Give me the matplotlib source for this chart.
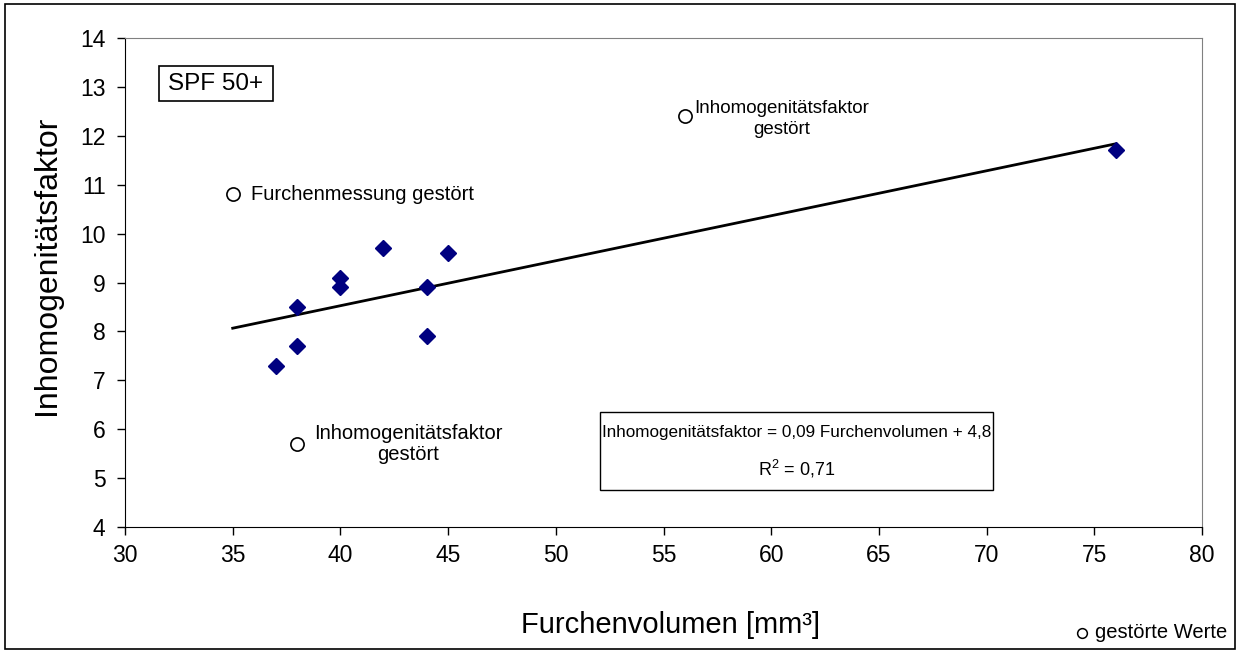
import numpy as np
import matplotlib
matplotlib.use("Agg")
import matplotlib.pyplot as plt
from matplotlib.patches import Rectangle
from matplotlib.lines import Line2D

plt.rcParams['font.family'] = ['Liberation Sans', 'DejaVu Sans']

# Messwerte SPF 50+
furchenvolumen = [37, 38, 38, 40, 40, 42, 44, 44, 45, 76]
inhomogenitaet = [7.3, 7.7, 8.5, 8.9, 9.1, 9.7, 8.9, 7.9, 9.6, 11.7]

# gestörte Werte (nicht in der Regression)
gestoert_x = [35, 56, 38]
gestoert_y = [10.8, 12.4, 5.7]
gestoert_text = ["Furchenmessung gestört",
                 "Inhomogenitätsfaktor\ngestört",
                 "Inhomogenitätsfaktor\ngestört"]

x_ticks = list(range(30, 81, 5))
y_ticks = list(range(4, 15))

W, H = 1240, 653

# lineare Regression
slope, intercept = np.polyfit(furchenvolumen, inhomogenitaet, 1)
trend_x = np.array([35, 76])
trend_y = slope * trend_x + intercept


def fx(px):
    return px / W


def fy(py):
    return 1 - py / H


fig = plt.figure(figsize=(W / 100, H / 100), dpi=100)
ax = fig.add_axes([fx(125), fy(527), (1202 - 125) / W, (527 - 38) / H])

ax.plot(trend_x, trend_y, color='black', linewidth=2, zorder=2)
ax.plot(furchenvolumen, inhomogenitaet, linestyle='none', marker='D',
        markersize=8.5, color='#000080', zorder=3)
ax.plot(gestoert_x, gestoert_y, linestyle='none', marker='o', markersize=9.5,
        markerfacecolor='white', markeredgecolor='black', markeredgewidth=1.2, zorder=3)

ax.set_xlim(30, 80)
ax.set_ylim(4, 14)
ax.set_xticks(x_ticks)
ax.set_yticks(y_ticks)
ax.tick_params(direction='out', length=6, width=1, labelsize=16.5)
ax.tick_params(axis='y', pad=8)
ax.tick_params(axis='x', pad=6)

for side in ['top', 'right']:
    ax.spines[side].set_color('#808080')
for side in ['left', 'bottom']:
    ax.spines[side].set_color('black')

ax.set_xlabel("Furchenvolumen [mm³]", fontsize=21, labelpad=32)
ax.xaxis.label.set_x(0.507)
ax.set_ylabel("Inhomogenitätsfaktor", fontsize=23, labelpad=13)
ax.yaxis.label.set_y(0.535)

# Beschriftungen der gestörten Werte
ax.annotate(gestoert_text[0], (gestoert_x[0], gestoert_y[0]), xytext=(18, 0),
            textcoords='offset pixels', ha='left', va='center', fontsize=14.5)
ax.annotate(gestoert_text[1], (gestoert_x[1], gestoert_y[1]), xytext=(97, -3),
            textcoords='offset pixels', ha='center', va='center', fontsize=13.5,
            linespacing=1.3)
ax.annotate(gestoert_text[2], (gestoert_x[2], gestoert_y[2]), xytext=(111, 0),
            textcoords='offset pixels', ha='center', va='center', fontsize=14.5,
            linespacing=1.15)

# Kasten SPF 50+
fig.add_artist(Rectangle((fx(159), fy(101)), 114 / W, 35 / H, transform=fig.transFigure,
                         facecolor='white', edgecolor='black', linewidth=1.2))
fig.text(fx(216), fy(84), "SPF 50+", ha='center', va='center', fontsize=17.5)

# Kasten mit Regressionsgleichung
fig.add_artist(Rectangle((fx(600), fy(490)), 393 / W, 78 / H, transform=fig.transFigure,
                         facecolor='white', edgecolor='black', linewidth=1))
fig.text(fx(797), fy(433), "Inhomogenitätsfaktor = 0,09 Furchenvolumen + 4,8",
         ha='center', va='center', fontsize=12.3)
fig.text(fx(797), fy(469), "$\\mathregular{R^2}$ = 0,71",
         ha='center', va='center', fontsize=13)

# Legende unten rechts
fig.add_artist(Line2D([fx(1082)], [fy(633)], transform=fig.transFigure, marker='o',
                      markersize=7, markerfacecolor='white', markeredgecolor='black',
                      markeredgewidth=1.1, linestyle='none'))
fig.text(fx(1095), fy(633), "gestörte Werte", ha='left', va='center', fontsize=14.5)

# Rahmen um die ganze Grafik
fig.add_artist(Rectangle((fx(5), fy(649)), 1230 / W, 645 / H,
                         transform=fig.transFigure, fill=False,
                         edgecolor='black', linewidth=1.2))

fig.savefig("out.png", dpi=100, facecolor='white')
